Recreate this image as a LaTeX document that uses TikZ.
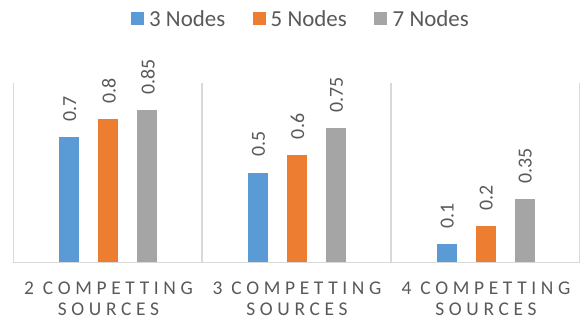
\documentclass[tikz,border=0pt]{standalone}
\usepackage{fontspec}
\setmainfont{Carlito}
\definecolor{cblue}{HTML}{5B9BD5}
\definecolor{corange}{HTML}{ED7D31}
\definecolor{cgray}{HTML}{A5A5A5}
\definecolor{ctext}{HTML}{595959}
\definecolor{cline}{HTML}{D9D9D9}
\begin{document}
\begin{tikzpicture}[x=1bp,y=-1bp,
  axisline/.style={draw=cline,line width=1.5bp},
  vlabel/.style={rotate=90,anchor=west,inner sep=0pt,text=ctext,font=\fontsize{20}{22}\selectfont},
  catlabel/.style={align=center,text=ctext,inner sep=0pt,font=\fontsize{19.5}{21}\selectfont\addfontfeature{LetterSpace=24}},
  legtext/.style={anchor=west,inner sep=0pt,text=ctext,font=\fontsize{23}{26}\selectfont},
  legsq/.style={minimum size=13bp,inner sep=0pt}]
\useasboundingbox (0,0) rectangle (584,329);
% axes
\coordinate (b0) at (13.5,262.5);
\coordinate (b3) at (579.5,262.5);
\foreach \x/\n in {13.5/0,202/1,391/2,579.5/3}{
  \coordinate (t\n) at (\x,83);
  \coordinate (u\n) at (\x,262.5);
  \draw[axisline] (t\n) -- (u\n);
}
\draw[axisline] (b0) -- (b3);
% bars
\def\sc{178.7}
\foreach \g/\c/\va/\vb/\vc in {1/108.3/0.7/0.8/0.85, 2/297/0.5/0.6/0.75, 3/485.7/0.1/0.2/0.35}{
  \foreach \k/\off/\v/\col in {a/-39/\va/cblue, b/0/\vb/corange, c/39/\vc/cgray}{
    \pgfmathsetmacro{\xl}{\c+\off-10}
    \pgfmathsetmacro{\xr}{\c+\off+10}
    \pgfmathsetmacro{\yt}{262-\v*\sc}
    \pgfmathsetmacro{\yl}{\yt-15.5}
    \fill[\col] (\xl,262) rectangle (\xr,\yt);
    \node[vlabel] (lab\g\k) at (\c+\off+0.5,\yl) {\v};
  }
}
% category labels
\node[catlabel] (cat1) at (108.5,299) {2 COMPETTING\\SOURCES};
\node[catlabel] (cat2) at (297,299) {3 COMPETTING\\SOURCES};
\node[catlabel] (cat3) at (486,299) {4 COMPETTING\\SOURCES};
% legend
\node[legsq,fill=cblue] (sq1) at (137.5,18) {};
\node[legtext] (lt1) at (149,18.5) {3 Nodes};
\node[legsq,fill=corange] (sq2) at (259,18) {};
\node[legtext] (lt2) at (270.5,18.5) {5 Nodes};
\node[legsq,fill=cgray] (sq3) at (380.5,18) {};
\node[legtext] (lt3) at (392.5,18.5) {7 Nodes};
\end{tikzpicture}
\end{document}
